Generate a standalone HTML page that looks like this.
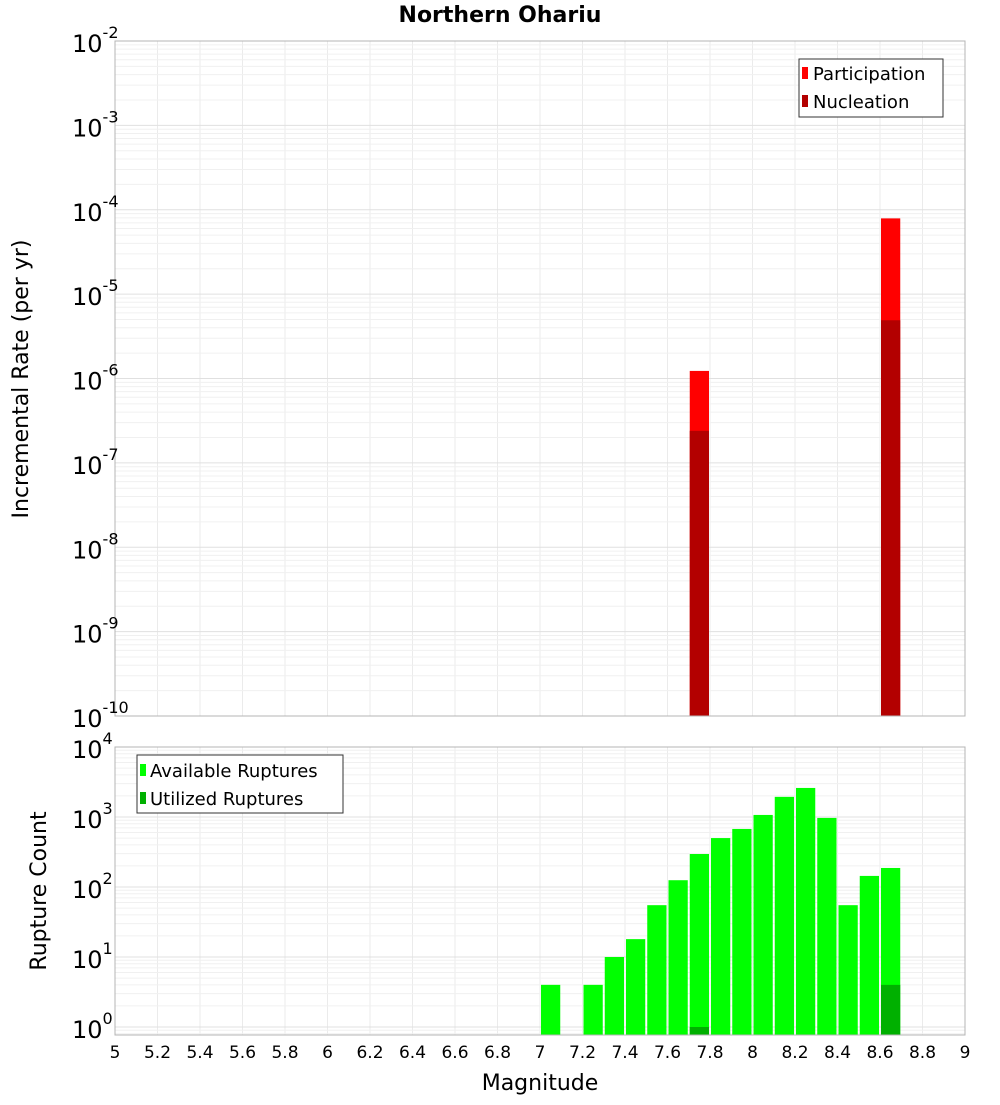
<!DOCTYPE html>
<html><head><meta charset="utf-8"><style>
body{margin:0;background:#fff}
svg text{font-family:"DejaVu Sans","Liberation Sans",sans-serif;fill:#000}
</style></head><body>
<svg id="c" width="1000" height="1100" xmlns="http://www.w3.org/2000/svg">
<text x="500" y="22" text-anchor="middle" font-size="22" font-weight="bold">Northern Ohariu</text>
<g id="topPanel"></g>
<g id="botPanel"></g>
<text transform="translate(28,379) rotate(-90)" text-anchor="middle" font-size="22">Incremental Rate (per yr)</text>
<text transform="translate(46,891) rotate(-90)" text-anchor="middle" font-size="22">Rupture Count</text>
<text x="540" y="1090" text-anchor="middle" font-size="22">Magnitude</text>
</svg>
<script>
const rateMags=[7.75,8.65];
const participation=[1.23e-6,7.9e-5];
const nucleation=[2.4e-7,4.9e-6];
const countMags=[7.05,7.25,7.35,7.45,7.55,7.65,7.75,7.85,7.95,8.05,8.15,8.25,8.35,8.45,8.55,8.65];
const available=[4,4,10,18,55,125,296,500,675,1070,1940,2600,970,55,144,187];
const utilMags=[7.75,8.65];
const utilized=[1,4];
const xTicks=[5,5.2,5.4,5.6,5.8,6,6.2,6.4,6.6,6.8,7,7.2,7.4,7.6,7.8,8,8.2,8.4,8.6,8.8,9];
const rateExps=[-10,-9,-8,-7,-6,-5,-4,-3,-2];
const countExps=[0,1,2,3,4];

const NS='http://www.w3.org/2000/svg';
const X0=115,X1=965;
const xs=m=>X0+(m-5)/4*(X1-X0);
const T0=41,T1=716, ty=v=>T0+(-2-Math.log10(v))*(T1-T0)/8;
const B0=747,B1=1035, by=v=>1027-Math.log10(v)*70;
function mk(p,tag,a,txt){const e=document.createElementNS(NS,tag);for(const k in a)e.setAttribute(k,a[k]);if(txt!==undefined)e.textContent=txt;p.appendChild(e);return e;}
const topG=document.getElementById('topPanel'),botG=document.getElementById('botPanel');

function grid(g,y0,y1,yf,exps){
  for(const t of xTicks){const l=mk(g,'line',{x1:xs(t),x2:xs(t),y1:y0,y2:y1,stroke:'#ebebeb'});
  
  }
  for(let e=exps[0]-1;e<=exps[exps.length-1];e++){
    for(let k=1;k<=9;k++){const y=yf(k*Math.pow(10,e));if(y<y0-0.5||y>y1+0.5)continue;
      const l=mk(g,'line',{x1:X0,x2:X1,y1:y,y2:y,stroke:k==1?'#e0e0e0':'#f0f0f0'});
      
      }
  }
}
function bar(g,m,v,yf,base,col,name){const w=(X1-X0)/40;const y=yf(v);
  const r=mk(g,'rect',{x:xs(m-0.05)+1,y:y,width:w-2,height:base-y,fill:col});
  
  }
function ylabels(g,exps,yf){for(const e of exps){const y=yf(Math.pow(10,e));
  const t=mk(g,'text',{x:72,y:y+11,'font-size':24});
  
  
  mk(t,'tspan',{},'10');mk(t,'tspan',{dy:-14,'font-size':16},String(e));}}

grid(topG,T0,T1,ty,rateExps);
participation.forEach((v,i)=>bar(topG,rateMags[i],v,ty,T1,'#ff0000','participation-bar'));
nucleation.forEach((v,i)=>bar(topG,rateMags[i],v,ty,T1,'#b30000','nucleation-bar'));
mk(topG,'rect',{x:X0,y:T0,width:X1-X0,height:T1-T0,fill:'none',stroke:'#b4b4b4'});
ylabels(topG,rateExps,ty);
const lg=mk(topG,'g',{});


mk(lg,'rect',{x:799,y:59,width:144,height:58,fill:'#fff',stroke:'#333'});
mk(lg,'rect',{x:802,y:67,width:6,height:12,fill:'#ff0000'});
mk(lg,'text',{x:813,y:80,'font-size':18},'Participation');
mk(lg,'rect',{x:802,y:95,width:6,height:12,fill:'#b30000'});
mk(lg,'text',{x:813,y:108,'font-size':18},'Nucleation');

grid(botG,B0,B1,by,countExps);
available.forEach((v,i)=>bar(botG,countMags[i],v,by,B1,'#00ff00','available-bar'));
utilized.forEach((v,i)=>bar(botG,utilMags[i],v,by,B1,'#00b000','utilized-bar'));
mk(botG,'rect',{x:X0,y:B0,width:X1-X0,height:B1-B0,fill:'none',stroke:'#b4b4b4'});
ylabels(botG,countExps,by);
const lg2=mk(botG,'g',{});


mk(lg2,'rect',{x:137,y:755,width:206,height:58,fill:'#fff',stroke:'#333'});
mk(lg2,'rect',{x:140,y:764,width:6,height:12,fill:'#00ff00'});
mk(lg2,'text',{x:150,y:777,'font-size':18},'Available Ruptures');
mk(lg2,'rect',{x:140,y:792,width:6,height:12,fill:'#00b000'});
mk(lg2,'text',{x:150,y:805,'font-size':18},'Utilized Ruptures');
for(const t of xTicks){const tx=mk(botG,'text',{x:xs(t),y:1058,'text-anchor':'middle','font-size':17},String(t));
  
  }
</script>
</body></html>
